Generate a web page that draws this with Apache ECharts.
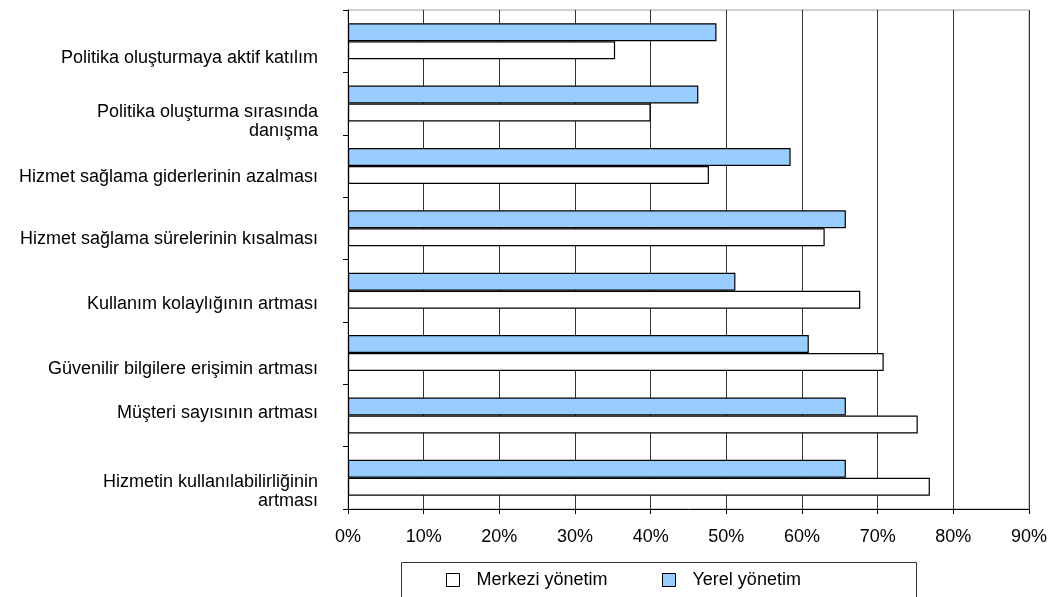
<!DOCTYPE html>
<html>
<head>
<meta charset="utf-8">
<title>E-hizmet faydaları</title>
<script src="https://cdn.jsdelivr.net/npm/echarts@6/dist/echarts.min.js"></script>
<style>
    html, body { margin: 0; padding: 0; background: #fff; }
    #chart { width: 1050px; height: 597px; }
</style>
</head>
<body>
<div id="chart"></div>
<script>
/* data, top category first */
var categories = [
    'Politika oluşturmaya aktif katılım',
    'Politika oluşturma sırasında\ndanışma',
    'Hizmet sağlama giderlerinin azalması',
    'Hizmet sağlama sürelerinin kısalması',
    'Kullanım kolaylığının artması',
    'Güvenilir bilgilere erişimin artması',
    'Müşteri sayısının artması',
    'Hizmetin kullanılabilirliğinin\nartması'
];
var yerelValues = [48.7, 46.3, 58.5, 65.8, 51.2, 60.9, 65.8, 65.8];
var merkeziValues = [35.3, 40.0, 47.7, 63.0, 67.7, 70.8, 75.3, 76.9];
var tickLabels = ['0%', '10%', '20%', '30%', '40%', '50%', '60%', '70%', '80%', '90%'];

var font = 'Liberation Sans, Arial, sans-serif';

/* labels in the original sit a little off the band centres:
   an empty spacer line above (or below) pushes the text down (or up) */
var labelShift = [17, 18, 11, 11, 13, 16, -2, 14];
var rich = {
    t: { fontSize: 18, lineHeight: 19, color: '#000', fontFamily: font, align: 'right' }
};
labelShift.forEach(function (s, i) {
    rich['sp' + i] = { fontSize: 1, lineHeight: Math.abs(2 * s), align: 'right' };
});
var labelFormatter = function (value, index) {
    var lines = value.split('\n').map(function (l) { return '{t|' + l + '}'; }).join('\n');
    var sp = '{sp' + index + '| }';
    return labelShift[index] >= 0 ? sp + '\n' + lines : lines + '\n' + sp;
};

var myChart = echarts.init(document.getElementById('chart'));
var legendBase = {
    top: 571, padding: 0,
    icon: 'rect',
    itemWidth: 13, itemHeight: 13,
    itemStyle: { borderColor: '#000', borderWidth: 1 },
    textStyle: { fontSize: 18, fontFamily: font, color: '#000', padding: [0, 0, 0, 12] }
};
var options = {
    animation: false,
    backgroundColor: '#fff',
    textStyle: { fontFamily: font, color: '#000' },
    grid: {
        left: 348, right: 18, top: 10, bottom: 88,
        show: true, borderColor: '#a0a0a0', borderWidth: 1
    },
    legend: [
        Object.assign({ data: ['Merkezi yönetim'], left: 446 }, legendBase),
        Object.assign({ data: ['Yerel yönetim'], left: 662 }, legendBase)
    ],
    graphic: [
        {
            type: 'rect',
            left: 399, top: 560,
            shape: { width: 515, height: 60 },
            style: { fill: 'none', stroke: '#333', lineWidth: 1 }
        }
    ],
    xAxis: {
        type: 'value',
        min: 0, max: 90, interval: 10,
        axisLine: { show: true, lineStyle: { color: '#000', width: 1 } },
        axisTick: { show: true, length: 5, lineStyle: { color: '#000' } },
        axisLabel: {
            margin: 19, fontSize: 18, color: '#000', fontFamily: font,
            formatter: function (v) { return tickLabels[Math.round(v / 10)]; }
        },
        splitLine: { show: true, lineStyle: { color: '#333', width: 1 } }
    },
    yAxis: {
        type: 'category',
        inverse: true,
        data: categories,
        axisLine: { show: true, lineStyle: { color: '#000', width: 1 } },
        axisTick: { show: true, interval: 0, length: 5, lineStyle: { color: '#000' } },
        axisLabel: {
            interval: 0, showMinLabel: true, showMaxLabel: true, hideOverlap: false,
            margin: 30, fontSize: 18, lineHeight: 19, color: '#000', fontFamily: font,
            align: 'right', formatter: labelFormatter, rich: rich
        },
        splitLine: { show: false }
    },
    series: [
        {
            name: 'Yerel yönetim',
            type: 'bar',
            barWidth: 18,
            barGap: '0%',
            data: yerelValues,
            itemStyle: { color: '#99ccff', borderColor: '#000', borderWidth: 1.2 }
        },
        {
            name: 'Merkezi yönetim',
            type: 'bar',
            barWidth: 18,
            barGap: '0%',
            data: merkeziValues,
            itemStyle: { color: '#ffffff', borderColor: '#000', borderWidth: 1.2 }
        }
    ]
};
myChart.setOption(options);
</script>
</body>
</html>
